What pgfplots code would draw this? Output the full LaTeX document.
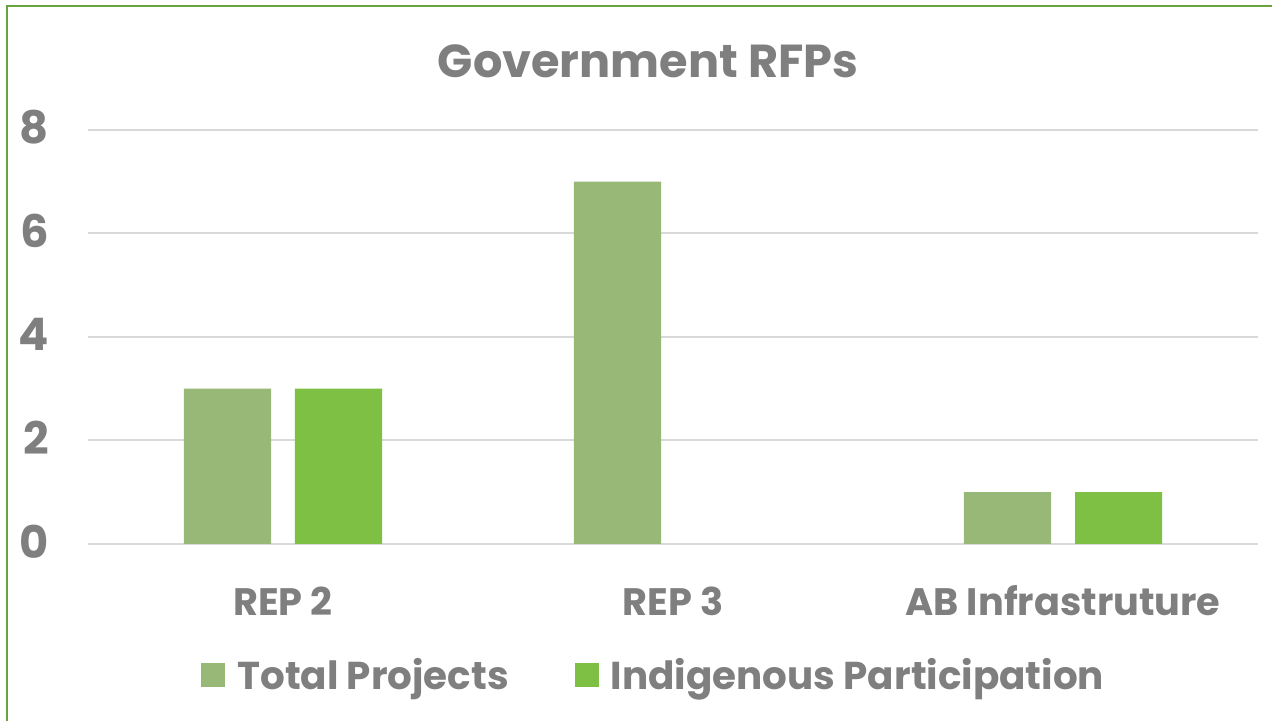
\documentclass[border=0pt]{standalone}
\usepackage{pgfplots}
\pgfplotsset{compat=1.18}
\usepackage{fontspec}
\setmainfont{Poppins}
\definecolor{txt}{HTML}{7F7F7F}
\definecolor{grd}{HTML}{D9D9D9}
\definecolor{totc}{HTML}{98B878}
\definecolor{indc}{HTML}{7DC043}
\definecolor{brd}{HTML}{6AA23E}
\begin{document}
\begin{tikzpicture}
\useasboundingbox (0,0) rectangle (636bp,360.5bp);
\fill[white] (0,0) rectangle (636bp,360.5bp);
\draw[brd, line width=1.2bp] (3.5bp,0) -- (3.5bp,357.5bp) -- (636bp,357.5bp);
\begin{axis}[
  at={(44bp,88.5bp)}, anchor=south west,
  scale only axis, width=585bp, height=207bp,
  xmin=-0.5, xmax=2.5, ymin=0, ymax=8,
  ytick={0,2,4,6,8},
  xtick={0,1,2},
  xticklabels={REP 2, REP 3, AB Infrastruture},
  axis line style={draw=none},
  major tick length=0pt,
  ymajorgrids, grid style={grd, line width=1bp},
  /pgf/number format/assume math mode=true,
  yticklabel style={anchor=base east, inner sep=0pt, xshift=-19.5bp, yshift=-7bp, font=\fontsize{22.5}{22.5}\selectfont\bfseries, text=txt},
  xticklabel style={anchor=base, inner sep=0pt, yshift=-35.5bp, font=\fontsize{19.2}{19.2}\selectfont\bfseries, text=txt},
  legend columns=2,
  legend style={draw=none, fill=none, at={(0.0966,-0.3164)}, anchor=west, inner sep=0pt,
    font=\fontsize{19.5}{19.5}\selectfont\bfseries, text=txt,
    /tikz/every odd column/.append style={column sep=4bp},
    /tikz/every even column/.append style={column sep=31bp}},
  legend image code/.code={\fill[#1, draw=none] (0bp,-6bp) rectangle (12bp,6bp);},
]
\addplot[ybar, bar width=0.2235, bar shift=-0.1425, fill=totc, draw=none] coordinates {(0,3) (1,7) (2,1)};
\addlegendentry{Total Projects}
\addplot[ybar, bar width=0.2235, bar shift=0.1425, fill=indc, draw=none] coordinates {(0,3) (1,0) (2,1)};
\addlegendentry{Indigenous Participation}
\end{axis}
\node[anchor=base, text=txt, font=\fontsize{23.2}{23.2}\selectfont\bfseries] at (324bp,321.5bp) {Government RFPs};
\end{tikzpicture}
\end{document}
